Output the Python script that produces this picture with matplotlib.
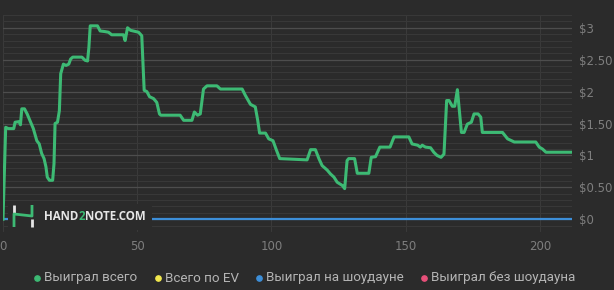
import matplotlib
matplotlib.use("Agg")
import matplotlib.pyplot as plt
from matplotlib.ticker import MultipleLocator, FuncFormatter
from matplotlib.lines import Line2D
from matplotlib.patches import Rectangle

# ── data ──────────────────────────────────────────────────────────────────────
hands = [0, 1, 2, 4, 4.5, 6, 6.5, 7, 8, 9, 10, 11.3, 12.6, 13.5, 14.4, 15.3,
         16, 16.5, 17.3, 18.5, 19, 19.4, 20.3, 21, 21.5, 22.5, 23.5, 24.5, 25.2,
         26, 29.4, 30.6, 31.5, 32, 32.5, 35.2, 36.2, 38, 39.3, 40.5, 44.9, 45.5,
         46.4, 47.5, 50.5, 51.7, 52.6, 53.6, 54.6, 56.1, 57.3, 58.3, 58.8, 66,
         67.3, 70.4, 71.3, 72.5, 73.5, 74.7, 76, 79.7, 81, 89.1, 90.3, 92.2, 94,
         94.9, 95.6, 97.8, 99, 100.6, 101.9, 103.1, 113.3, 114.6, 116.4, 117.7,
         118.9, 120.8, 122, 123.3, 124.5, 126.4, 127.3, 128.2, 128.8, 131, 132,
         136.3, 137.2, 138.8, 140.4, 144.2, 145.7, 151.2, 152.4, 154.5, 155.5,
         156.2, 157.4, 159.3, 160.5, 161.7, 163.2, 164.3, 165.3, 166.2, 167.4,
         168.3, 169.3, 169.9, 170.8, 171.8, 173, 174.5, 175.5, 177, 178, 178.6,
         186.1, 188, 190.5, 198.5, 199.8, 201, 202.3, 212]
won_total = [0, 1.44, 1.42, 1.42, 1.52, 1.53, 1.48, 1.73, 1.73, 1.65, 1.55,
             1.42, 1.23, 1.18, 1.03, 0.95, 0.82, 0.66, 0.61, 0.61, 0.87, 1.5,
             1.52, 1.7, 2.28, 2.43, 2.41, 2.43, 2.51, 2.54, 2.54, 2.49, 2.48,
             2.69, 3.03, 3.03, 2.95, 2.94, 2.93, 2.89, 2.89, 2.8, 3.0, 2.96,
             2.93, 2.875, 2.02, 2.0, 1.92, 1.89, 1.83, 1.65, 1.63, 1.63, 1.55,
             1.55, 1.68, 1.63, 1.65, 2.04, 2.09, 2.09, 2.04, 2.04, 1.94, 1.8,
             1.76, 1.55, 1.35, 1.35, 1.26, 1.23, 1.08, 0.95, 0.93, 1.09, 1.09,
             0.95, 0.84, 0.77, 0.71, 0.66, 0.58, 0.53, 0.48, 0.92, 0.95, 0.95,
             0.72, 0.72, 0.97, 0.98, 1.13, 1.13, 1.29, 1.29, 1.18, 1.16, 1.13,
             1.16, 1.13, 1.12, 1.05, 1.0, 0.97, 1.02, 1.86, 1.86, 1.77, 1.77,
             2.03, 1.76, 1.36, 1.36, 1.49, 1.52, 1.65, 1.65, 1.6, 1.36, 1.36,
             1.26, 1.21, 1.21, 1.13, 1.1, 1.05, 1.05]
showdown_hands = [0, 212]
won_showdown = [0, 0]

legend_labels = ["Выиграл всего", "Всего по EV", "Выиграл на шоудауне",
                 "Выиграл без шоудауна"]
legend_colors = ["#3dba74", "#f2e94e", "#3d8fd9", "#e8507a"]

BG = "#2b2b2b"
W, H = 614, 290


def fx(px):
    return px / W


def fy(py):
    return 1 - py / H


fig = plt.figure(figsize=(W / 100, H / 100), dpi=100, facecolor=BG)
ax = fig.add_axes([fx(3), fy(232), 569 / W, 217 / H])
ax.set_facecolor(BG)

ax.plot(showdown_hands, won_showdown, color=legend_colors[2], lw=1.6, zorder=3)
ax.plot(hands, won_total, color=legend_colors[0], lw=2.2, zorder=4,
        solid_joinstyle="round")

ax.set_xlim(0, 212)
ax.set_ylim(-0.2, 3.2)
ax.xaxis.set_major_locator(MultipleLocator(50))
ax.yaxis.set_major_locator(MultipleLocator(0.5))
ax.yaxis.set_minor_locator(MultipleLocator(0.1))


def money(v, _):
    if abs(v - round(v)) < 1e-6:
        return f"${int(round(v))}"
    return f"${v:.2f}"


ax.yaxis.set_major_formatter(FuncFormatter(money))
ax.yaxis.tick_right()
ax.tick_params(axis="both", which="both", length=0, colors="#7e7e7e",
               labelsize=8.5)
ax.tick_params(axis="y", pad=5)
ax.tick_params(axis="x", pad=6)
ax.grid(axis="y", which="major", color="#4d4d4d", lw=0.9)
ax.grid(axis="y", which="minor", color="#383838", lw=0.8)
ax.grid(axis="x", which="major", color="#3a3a3a", lw=0.8)
ax.set_axisbelow(True)
for s in ax.spines.values():
    s.set_visible(False)

# ── watermark ────────────────────────────────────────────────────────────────
fig.add_artist(Rectangle((fx(8), fy(230)), fx(144), 26 / H, facecolor=BG,
                         edgecolor="none", zorder=10))
renderer = fig.canvas.get_renderer()
x_px = 44
for piece, col in [("HAND", "#e6e6e6"), ("2", "#3dba74"), ("NOTE.COM", "#e6e6e6")]:
    t = fig.text(fx(x_px), fy(216), piece, color=col, fontsize=8.3,
                 fontweight="bold", family="Open Sans", va="center", ha="left",
                 zorder=11)
    x_px += t.get_window_extent(renderer).width
# logo
for xs, ys, c in [
    ([14, 14], [205, 213], "#e6e6e6"),
    ([32, 32], [219, 227], "#e6e6e6"),
    ([14, 14, 32, 32], [227, 214, 216, 205], "#3dba74"),
]:
    fig.add_artist(Line2D([fx(x) for x in xs], [fy(y) for y in ys], color=c,
                          lw=2.0, solid_capstyle="butt", zorder=12))

# ── legend ───────────────────────────────────────────────────────────────────
dot_x = [37, 158, 259, 424]
text_x = [44, 165, 266, 431]
for dx, tx, lab, col in zip(dot_x, text_x, legend_labels, legend_colors):
    fig.add_artist(Line2D([fx(dx)], [fy(278)], ls="none", marker="o", ms=3.8,
                          color=col))
    fig.text(fx(tx), fy(278), lab, color="#b5b5b5", fontsize=9.6,
             family="Roboto", va="center", ha="left")

fig.savefig("out.png", dpi=100, facecolor=BG)
